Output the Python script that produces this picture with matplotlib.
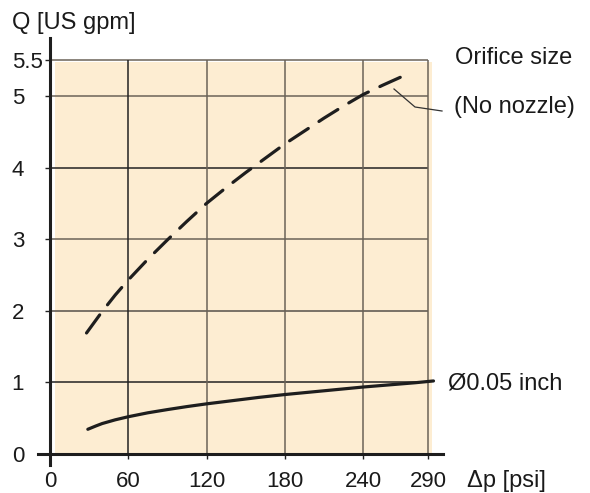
import matplotlib
matplotlib.use('Agg')
import matplotlib.pyplot as plt
from matplotlib.patches import Rectangle

plt.rcParams['font.family'] = ['Liberation Sans', 'DejaVu Sans']

# readings from the chart: pressure drop [psi] vs flow [US gpm]
p_no_nozzle = [28, 40, 50, 60, 75, 90, 105, 120, 135, 150, 165, 180,
               195, 210, 225, 240, 255, 266, 277]
q_no_nozzle = [1.69, 1.99, 2.22, 2.43, 2.72, 2.99, 3.25, 3.50, 3.72, 3.93,
               4.13, 4.33, 4.51, 4.69, 4.86, 5.02, 5.15, 5.24, 5.33]

p_005 = [29, 35, 40, 50, 60, 75, 90, 105, 120, 140, 160, 180, 200, 220,
         240, 260, 280, 294]
q_005 = [0.345, 0.39, 0.425, 0.477, 0.52, 0.575, 0.62, 0.662, 0.70, 0.745,
         0.79, 0.83, 0.865, 0.90, 0.935, 0.965, 0.995, 1.02]

x_ticks = [0, 60, 120, 180, 240, 290]
y_ticks = [0, 1, 2, 3, 4, 5, 5.5]
y_tick_labels = ['0', '1', '2', '3', '4', '5', '5.5']

W, H = 590, 493
fig = plt.figure(figsize=(W / 100, H / 100), dpi=100)
# axes box in pixels: left 38, right 443, top 38, bottom 465
ax = fig.add_axes([38 / W, (H - 465) / H, 405 / W, 427 / H])
ax.set_xlim(-9.2, 301.3)
ax.set_ylim(-0.154, 5.81)

line_col = '#1e1e1e'

ax.add_patch(Rectangle((3.8, 0), 292.6 - 3.8, 5.47, facecolor='#fdedd2',
                       edgecolor='none', zorder=0))

# grid lines, bounded to the chart field
ax.hlines(y_ticks[1:], 0, 290, colors=['#222222', '#555049', '#6b6358',
                                        '#222222', '#6b6358', '#6b6358'],
          lw=1.1, zorder=1)
ax.vlines(x_ticks[1:], 0, 5.5, colors=['#222222', '#6b6358', '#6b6358',
                                        '#6b6358', '#6b6358'],
          lw=1.1, zorder=1)

ax.plot(p_no_nozzle, q_no_nozzle, color=line_col, lw=2.3,
        dashes=(7, 4), dash_capstyle='round', zorder=3)
ax.plot(p_005, q_005, color=line_col, lw=2.3, solid_capstyle='round',
        solid_joinstyle='round', zorder=3)

for s in ['top', 'right']:
    ax.spines[s].set_visible(False)
for s in ['left', 'bottom']:
    ax.spines[s].set_position(('data', 0))
    ax.spines[s].set_linewidth(2.2)
    ax.spines[s].set_color(line_col)

ax.set_xticks(x_ticks)
ax.set_xticklabels([str(v) for v in x_ticks])
ax.set_yticks(y_ticks)
ax.set_yticklabels(y_tick_labels)
ax.tick_params(axis='both', direction='out', length=3.6, width=1.0,
               colors='#222222', labelcolor='#1a1a1a', labelsize=16)
ax.tick_params(axis='x', pad=9)
ax.tick_params(axis='y', pad=24)
for lab in ax.get_yticklabels():
    lab.set_horizontalalignment('left')


def fx(x):
    return x / W


def fy(y):
    return 1 - y / H


txt = dict(fontsize=17, color='#1a1a1a', transform=fig.transFigure,
           va='baseline', ha='left')
fig.text(fx(12), fy(28.5), 'Q [US gpm]', **txt)
fig.text(fx(467), fy(487), 'Δp [psi]', **txt)
fig.text(fx(455), fy(64), 'Orifice size', **txt)
fig.text(fx(454), fy(112.5), '(No nozzle)', **txt)
fig.text(fx(448), fy(390), 'Ø0.05 inch', **txt)

# leader line from the dashed curve to its label
fig.add_artist(plt.Line2D([fx(394), fx(415), fx(442)],
                          [fy(89), fy(107), fy(111)],
                          color='#333333', lw=0.9))

fig.savefig('out.png', dpi=100)
